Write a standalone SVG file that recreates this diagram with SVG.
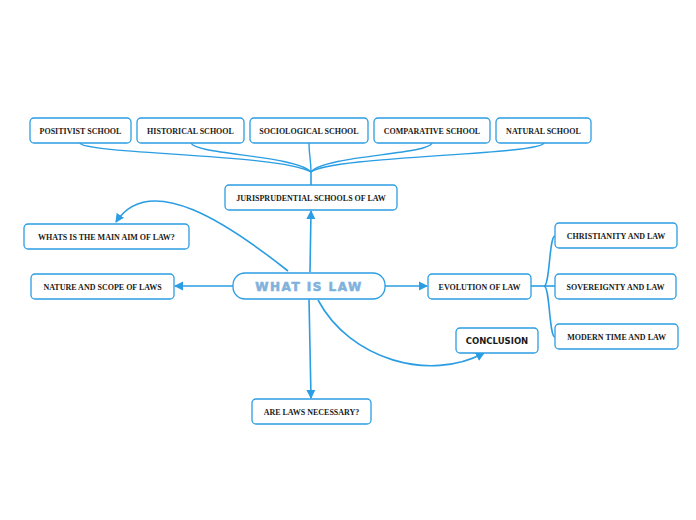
<svg xmlns="http://www.w3.org/2000/svg" width="696" height="520" viewBox="0 0 696 520">
<style>
.box{fill:#fff;stroke:#2b9de3;stroke-width:1.3}
.t{font-family:"Liberation Serif",serif;font-weight:bold;font-size:8px;fill:#1a1a1a;text-anchor:middle}
.c{fill:none;stroke:#2b9de3;stroke-width:1.6}
.ct{fill:none;stroke:#2b9de3;stroke-width:1.4}
</style>
<defs>
<marker id="ar" markerWidth="10" markerHeight="10" refX="8" refY="5" orient="auto" markerUnits="userSpaceOnUse">
<path d="M0,0.5 L9,5 L0,9.5 Z" fill="#2b9de3"/>
</marker>
</defs>
<rect width="696" height="520" fill="#fff"/>
<g id="connectors">
<path class="ct" d="M80,143 C84,154 280,154 311,172"/>
<path class="ct" d="M191,143 C196,155 295,155 311,172"/>
<path class="ct" d="M309,143 C309,155 311,160 311,172"/>
<path class="ct" d="M432,143 C428,155 325,155 311,172"/>
<path class="ct" d="M544,143 C540,155 330,156 311,172"/>
<path class="c" d="M311,172 L311,185"/>
<path class="c" d="M310,272 L311,211" marker-end="url(#ar)"/>
<path class="c" d="M233,286 L175,286" marker-end="url(#ar)"/>
<path class="c" d="M385,286 L427,286" marker-end="url(#ar)"/>
<path class="c" d="M309,299 L311,398" marker-end="url(#ar)"/>
<path class="c" d="M288,271 C230,225 150,170 116,222" marker-end="url(#ar)"/>
<path class="c" d="M318,300 C350,360 430,382 484,353" marker-end="url(#ar)"/>
<path class="c" d="M531,286 L546,286" stroke-width="2.5"/>
<path class="c" d="M544,286 C550,286 549,236 555,236"/>
<path class="c" d="M544,286 L555,286"/>
<path class="c" d="M544,286 C550,286 549,337 555,337"/>
</g>
<g id="n-positivist"><rect class="box" x="30" y="118" width="101" height="25" rx="4"/><text class="t" x="80.5" y="133.5">POSITIVIST SCHOOL</text></g>
<g id="n-historical"><rect class="box" x="137" y="118" width="107" height="25" rx="4"/><text class="t" x="190.5" y="133.5">HISTORICAL SCHOOL</text></g>
<g id="n-sociological"><rect class="box" x="250" y="118" width="118" height="25" rx="4"/><text class="t" x="309" y="133.5">SOCIOLOGICAL SCHOOL</text></g>
<g id="n-comparative"><rect class="box" x="374" y="118" width="116" height="25" rx="4"/><text class="t" x="432" y="133.5">COMPARATIVE SCHOOL</text></g>
<g id="n-natural"><rect class="box" x="496" y="118" width="95" height="25" rx="4"/><text class="t" x="543.5" y="133.5">NATURAL SCHOOL</text></g>
<g id="n-juris"><rect class="box" x="225" y="185" width="172" height="25" rx="4"/><text class="t" x="311" y="200.5">JURISPRUDENTIAL SCHOOLS OF LAW</text></g>
<g id="n-aim"><rect class="box" x="24" y="224" width="165" height="25" rx="4"/><text class="t" x="106.5" y="239.5">WHATS IS THE MAIN AIM OF LAW?</text></g>
<g id="n-nature"><rect class="box" x="31" y="274" width="143" height="25" rx="4"/><text class="t" x="102.5" y="289.5">NATURE AND SCOPE OF LAWS</text></g>
<g id="n-main"><rect class="box" x="233" y="273" width="152" height="26" rx="12"/><text x="309" y="290.5" text-anchor="middle" font-family="DejaVu Sans,sans-serif" font-weight="bold" font-size="12" letter-spacing="1.5" fill="#80b2dc" stroke="#80b2dc" stroke-width="0.6">WHAT IS LAW</text></g>
<g id="n-evolution"><rect class="box" x="428" y="274" width="103" height="25" rx="4"/><text class="t" x="479.5" y="289.5">EVOLUTION OF LAW</text></g>
<g id="n-christianity"><rect class="box" x="555" y="223" width="122" height="25" rx="4"/><text class="t" x="616" y="238.5">CHRISTIANITY AND LAW</text></g>
<g id="n-sovereignty"><rect class="box" x="555" y="274" width="121" height="25" rx="4"/><text class="t" x="615.5" y="289.5">SOVEREIGNTY AND LAW</text></g>
<g id="n-modern"><rect class="box" x="555" y="324" width="123" height="25" rx="4"/><text class="t" x="616.5" y="339.5">MODERN TIME AND LAW</text></g>
<g id="n-conclusion"><rect class="box" x="456" y="328" width="82" height="25" rx="4"/><text x="497" y="343.5" text-anchor="middle" font-family="DejaVu Sans,sans-serif" font-weight="bold" font-size="8.5" fill="#1a1a1a">CONCLUSION</text></g>
<g id="n-necessary"><rect class="box" x="252" y="399" width="119" height="25" rx="4"/><text class="t" x="311.5" y="414.5">ARE LAWS NECESSARY?</text></g>
</svg>
